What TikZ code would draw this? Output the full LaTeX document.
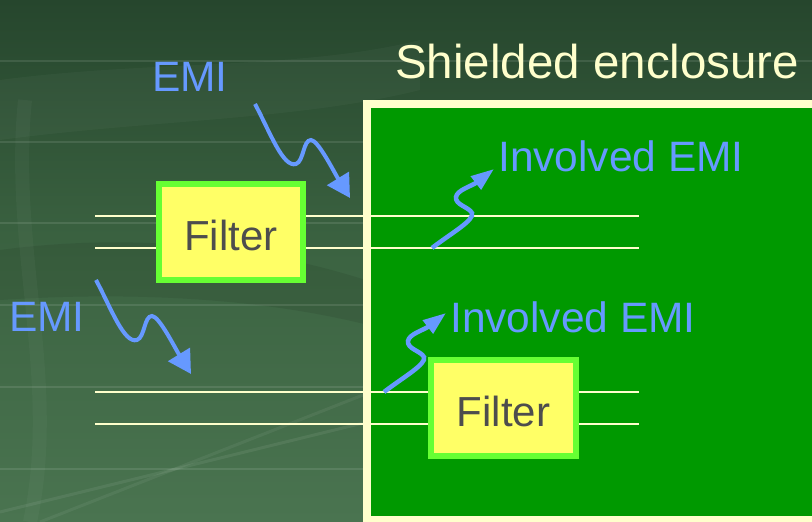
\documentclass[tikz,border=0pt]{standalone}
\usepackage{fontspec}
\setmainfont{Liberation Sans}
\usetikzlibrary{arrows.meta}

\definecolor{bgtop}{RGB}{38,70,45}
\definecolor{bgmid}{RGB}{60,100,66}
\definecolor{bgbot}{RGB}{74,116,80}
\definecolor{shieldgreen}{RGB}{0,153,0}
\definecolor{paleyellow}{RGB}{255,255,204}
\definecolor{filterfill}{RGB}{255,255,102}
\definecolor{filterborder}{RGB}{102,255,51}
\definecolor{filtertext}{RGB}{77,77,77}
\definecolor{emiblue}{RGB}{102,153,255}

\tikzset{
  enclosure/.style={draw=paleyellow, line width=8pt, fill=shieldgreen, inner sep=0pt},
  filterbox/.style={draw=filterborder, line width=6pt, fill=filterfill, inner sep=0pt,
    minimum width=144pt, minimum height=96pt, text=filtertext,
    font=\fontsize{42}{42}\selectfont},
  wire/.style={draw=paleyellow, line width=2pt},
  emilabel/.style={text=emiblue, inner sep=0pt, anchor=base west,
    font=\fontsize{42.5}{42.5}\selectfont},
  titlelabel/.style={text=paleyellow, inner sep=0pt, anchor=base west,
    font=\fontsize{47.5}{47.5}\selectfont},
  wavein/.style={draw=emiblue, line width=4pt, -{Triangle[length=23pt,width=25pt]}},
  waveout/.style={draw=emiblue, line width=4.5pt, -{Triangle[length=23pt,width=16pt]}},
  streak/.style={draw=white, line width=2pt, opacity=0.10},
}

\begin{document}
\begin{tikzpicture}[x=1pt, y=-1pt]
\useasboundingbox (0,0) rectangle (812,522);
\clip (0,0) rectangle (812,522);

% textured green backdrop
\shade[top color=bgtop, bottom color=bgbot, middle color=bgmid] (0,0) rectangle (812,522);
\fill[black, opacity=0.08] (0,250) .. controls (150,230) and (300,250) .. (420,300)
  -- (420,340) .. controls (300,300) and (150,290) .. (0,300) -- cycle;
\fill[white, opacity=0.03] (0,80) .. controls (150,60) and (300,70) .. (420,40)
  -- (420,90) .. controls (300,120) and (150,120) .. (0,140) -- cycle;
\foreach \yy in {61,142,223,305,387,469}
  \draw[streak] (0,\yy) -- (812,\yy);
\draw[white, opacity=0.07, line width=3pt] (0,512) -- (363,423);
\draw[white, opacity=0.06, line width=3pt] (40,522) -- (363,395);
\draw[white, opacity=0.03, line width=14pt] (25,100) .. controls (10,250) and (60,380) .. (30,522);

% shielded enclosure
\node[enclosure, minimum width=463pt, minimum height=416pt] (shield) at (598.5,312) {};
\node[titlelabel] (title) at (395,78) {Shielded enclosure};

% filters
\node[filterbox] (filterA) at (231,232) {\raisebox{-3pt}[\height][0pt]{Filter}};
\node[filterbox, minimum width=145pt] (filterB) at (503.5,408) {\raisebox{-3.7pt}[\height][0pt]{Filter}};

% wire end points
\coordinate (a1) at (95,216);   \coordinate (a2) at (95,248);
\coordinate (a3) at (639,216);  \coordinate (a4) at (639,248);
\coordinate (b1) at (95,392);   \coordinate (b2) at (95,423.5);
\coordinate (b3) at (639,392);  \coordinate (b4) at (639,423.5);

% wires, stopping at the outer edge of each filter border
\draw[wire] (a1) -- (filterA.west |- a1);
\draw[wire] (a2) -- (filterA.west |- a2);
\draw[wire] (filterA.east |- a3) -- (a3);
\draw[wire] (filterA.east |- a4) -- (a4);
\draw[wire] (b1) -- (filterB.west |- b1);
\draw[wire] (b2) -- (filterB.west |- b2);
\draw[wire] (filterB.east |- b3) -- (b3);
\draw[wire] (filterB.east |- b4) -- (b4);

% EMI labels
\node[emilabel] (emiA) at (152,91) {EMI};
\node[emilabel] (emiB) at (9,331) {EMI};
\node[emilabel] (invA) at (498,171) {Involved EMI};
\node[emilabel] (invB) at (450,332) {Involved EMI};

% wavy arrows: incoming interference
\coordinate (inA) at (255,104);
\coordinate (inB) at (96,280);
\foreach \s in {inA,inB}{
  \begin{scope}[shift={(\s)}]
    \draw[wavein] (0,0) .. controls (15,28) and (28,64) .. (41,60)
      .. controls (49,57) and (48,36) .. (56,36)
      .. controls (63,36) and (79,68) .. (95,94);
  \end{scope}
}

% wavy arrows: interference picked up inside
\coordinate (outA) at (432,248);
\coordinate (outB) at (384,392);
\foreach \s in {outA,outB}{
  \begin{scope}[shift={(\s)}]
    \draw[waveout] (0,0) .. controls (18,-14) and (43,-28) .. (40,-35)
      .. controls (37,-41) and (23,-43) .. (24,-51)
      .. controls (25,-58) and (40,-62) .. (62,-79);
  \end{scope}
}
\end{tikzpicture}
\end{document}
